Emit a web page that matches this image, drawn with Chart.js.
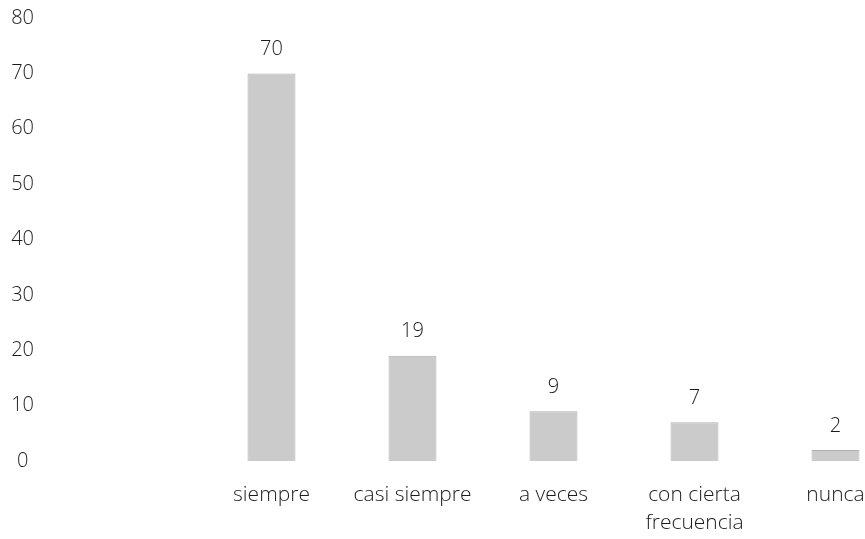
<!DOCTYPE html>
<html>
<head>
<meta charset="utf-8">
<script src="https://cdn.jsdelivr.net/npm/chart.js@4/dist/chart.umd.min.js"></script>
<style>
  html, body { margin: 0; padding: 0; background: #fff; overflow: hidden; }
  #wrap { width: 865px; height: 539px; overflow: hidden; position: relative; }
  canvas { position: absolute; left: 0; top: 0; }
</style>
</head>
<body>
<div id="wrap"><canvas id="c" width="906" height="539"></canvas></div>
<script>
const categories = ['siempre', 'casi siempre', 'a veces', ['con cierta', 'frecuencia'], 'nunca'];
const values = [70, 19, 9, 7, 2];
const yTicks = [0, 10, 20, 30, 40, 50, 60, 70, 80];

const FONT = "'Open Sans', 'DejaVu Sans', sans-serif";
const TEXT = '#1c1c1c';

const valueLabels = {
  id: 'valueLabels',
  afterDatasetsDraw(chart) {
    const ctx = chart.ctx;
    const meta = chart.getDatasetMeta(0);
    ctx.save();
    ctx.font = "300 20px " + FONT;
    ctx.fillStyle = TEXT;
    ctx.textAlign = 'center';
    ctx.textBaseline = 'middle';
    meta.data.forEach((bar, i) => {
      ctx.fillText(String(chart.data.datasets[0].data[i]), bar.x, bar.y - 24);
    });
    ctx.restore();
  }
};

new Chart(document.getElementById('c'), {
  type: 'bar',
  data: {
    labels: categories,
    datasets: [{
      data: values,
      backgroundColor: '#cbcbcb',
      borderColor: '#b0b0b0',
      borderWidth: 1,
      categoryPercentage: 1,
      barPercentage: 0.34
    }]
  },
  options: {
    responsive: false,
    animation: false,
    layout: { padding: { top: 18, bottom: 0, left: 0, right: 0 } },
    plugins: { legend: { display: false }, tooltip: { enabled: false } },
    scales: {
      x: {
        grid: { display: false, drawTicks: false },
        border: { display: false },
        ticks: {
          color: TEXT,
          font: { family: FONT, size: 21, weight: '300', lineHeight: 1.33 },
          padding: 20,
          maxRotation: 0,
          autoSkip: false
        },
        afterFit(scale) { scale.height = 78; }
      },
      y: {
        min: 0,
        max: 80,
        afterBuildTicks(scale) { scale.ticks = yTicks.map(v => ({ value: v })); },
        grid: { display: false, drawTicks: false },
        border: { display: false },
        ticks: {
          color: TEXT,
          font: { family: FONT, size: 20, weight: '300' },
          crossAlign: 'center',
          padding: 167
        },
        afterFit(scale) {
          scale.width = 201;
          scale.paddingTop = 0;
          scale.paddingBottom = 0;
        }
      }
    }
  },
  plugins: [valueLabels]
});
</script>
</body>
</html>
